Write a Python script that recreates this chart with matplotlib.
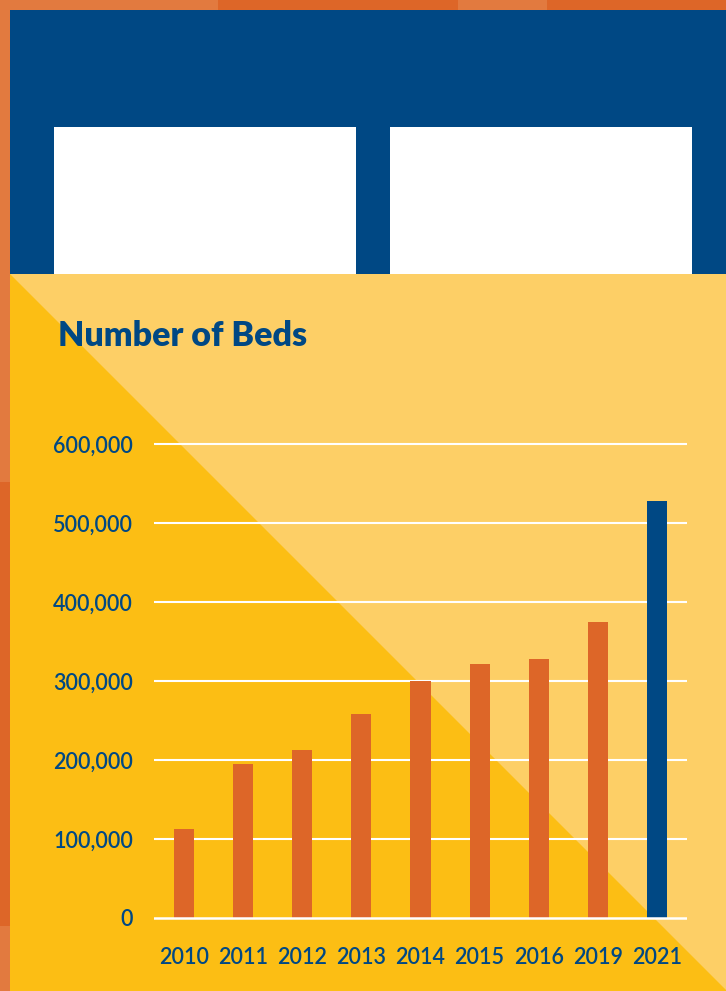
import matplotlib.pyplot as plt
from matplotlib.patches import Rectangle, Polygon
from matplotlib.ticker import FuncFormatter

# beds per year
years = ['2010', '2011', '2012', '2013', '2014', '2015', '2016', '2019', '2021']
beds = [113000, 195000, 213000, 258000, 300000, 322000, 328000, 375000, 528000]
yticks = [0, 100000, 200000, 300000, 400000, 500000, 600000]

NAVY = '#004884'
ORANGE = '#DD6628'
ORANGE_LT = '#E27A3F'
YELLOW = '#FCBE14'
YELLOW_LT = '#FDCF66'

W, H = 726, 991
fig = plt.figure(figsize=(W / 100, H / 100), dpi=100)

# backdrop drawn in pixel units on a full-figure axes
bg = fig.add_axes([0, 0, 1, 1], zorder=0)
bg.set_xlim(0, W)
bg.set_ylim(H, 0)
bg.axis('off')

# orange frame
bg.add_patch(Rectangle((0, 0), W, H, color=ORANGE_LT, lw=0))
bg.add_patch(Rectangle((218, 0), 240, 10, color=ORANGE, lw=0))
bg.add_patch(Rectangle((547, 0), W - 547, 10, color=ORANGE, lw=0))
bg.add_patch(Rectangle((0, 482), 10, 444, color=ORANGE, lw=0))

# header band with two white panels
bg.add_patch(Rectangle((10, 10), W - 10, 264, color=NAVY, lw=0))
bg.add_patch(Rectangle((54, 127), 302, 147, color='white', lw=0))
bg.add_patch(Rectangle((390, 127), 302, 147, color='white', lw=0))

# two-tone yellow body split on the diagonal
bg.add_patch(Rectangle((10, 274), W - 10, H - 274, color=YELLOW_LT, lw=0))
bg.add_patch(Polygon([(10, 274), (10, H), (727, H)], closed=True,
                     color=YELLOW, lw=0))

fig.text(58 / W, 1 - 346 / H, 'Number of Beds', color=NAVY,
         fontsize=24.5, fontweight='heavy', family='Lato', va='baseline')

# chart axes: 0 at y=918px, 100k per 79px
px_per = 79 / 100000
ymin, ymax = -10000, 640000
bottom_px = 918 + (-ymin) * px_per
height_px = (ymax - ymin) * px_per
ax = fig.add_axes([154 / W, 1 - bottom_px / H, (687 - 154) / W, height_px / H],
                  zorder=1)
ax.patch.set_alpha(0)
for s in ax.spines.values():
    s.set_visible(False)

x = list(range(len(years)))
colors = [ORANGE] * (len(years) - 1) + [NAVY]
ax.bar(x, beds, width=0.34, color=colors, zorder=3)

for v in yticks[1:]:
    ax.axhline(v, color='white', lw=1.5, zorder=2)
ax.axhline(0, color='white', lw=1.8, zorder=4)

ax.set_xlim(-0.507, len(years) - 1 + 0.507)
ax.set_ylim(ymin, ymax)
ax.set_yticks(yticks)
ax.yaxis.set_major_formatter(FuncFormatter(lambda v, p: f'{int(v):,}'))
ax.set_xticks(x)
ax.set_xticklabels(years)
ax.tick_params(length=0, labelcolor=NAVY, labelsize=15.5)
ax.tick_params(axis='y', pad=15)
ax.tick_params(axis='x', pad=15)
for lab in ax.get_xticklabels() + ax.get_yticklabels():
    lab.set_family('Lato')
    lab.set_fontweight('semibold')

fig.savefig('out.png', dpi=100)
